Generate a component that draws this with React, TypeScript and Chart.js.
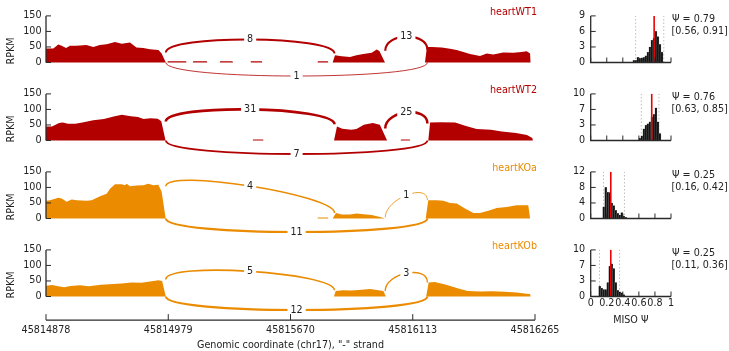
import React, { useEffect, useRef } from 'react';
import { Chart, registerables } from 'chart.js';
Chart.register(...registerables);

const FONT_FAMILY = '"DejaVu Sans", sans-serif';
const FS = 9.6;
const TEXT = '#222222';
const AXIS = '#2a2a2a';
const RED = '#b20000';
const ORANGE = '#ea8b00';

const sampleNames = ['heartWT1', 'heartWT2', 'heartKOa', 'heartKOb'];
const sampleColors = [RED, RED, ORANGE, ORANGE];

// compressed genomic axis (0..400 units)
const genomicTickPos = [0, 100, 200, 300, 400];
const genomicTickLabels = ['45814878', '45814979', '45815670', '45816113', '45816265'];
const rpkmTicks = [0, 50, 100, 150];

// coverage (x in compressed units, y in RPKM)
const wt1X = [0, 6, 10, 12.8, 16.4, 19.6, 25, 33, 38.7, 44, 49.6, 56.4, 62, 68.7, 74, 79.6, 85, 92, 94.6, 98,
  99, 99.5, 114.5, 115, 120, 120.5, 131.5, 132, 142, 142.5, 152.5, 153, 167, 167.5, 176.5, 177, 222, 222.5, 230.5, 231,
  234.5, 236.4, 241.8, 248.7, 254, 259.6, 266.4, 270.5, 272.7, 277.3,
  310, 311.6, 315.5, 323.7, 330.5, 335.9, 341.4, 346.8, 355, 360.5, 365.9, 374, 382.3, 389, 393.2, 396, 396.5];
const wt1Y = [45, 45, 58, 54, 47, 54, 54, 56, 50, 56, 59, 66, 60, 64, 48, 47, 43, 40, 29, 0,
  0, 4, 4, 0, 0, 4, 4, 0, 0, 4, 4, 0, 0, 4, 4, 0, 0, 4, 4, 0,
  0, 23, 20, 18, 23, 27, 31, 42, 37, 0,
  0, 50, 50, 48, 44, 40, 34, 27, 21, 29, 26, 32, 31, 34, 36, 29, 0];

const wt2X = [0, 4.9, 10.7, 13.7, 18.1, 24, 29.8, 38.6, 47.4, 56.2, 62, 69.4, 75.3, 79.7, 85.5, 91.4, 94.3, 97.8,
  169, 169.5, 177.5, 178,
  235.6, 238, 242.4, 249.7, 254, 260, 267.3, 273.1, 279,
  290, 290.5, 297.5, 298,
  312.7, 314.2, 323, 334.7, 343.5, 352.3, 364, 372.8, 384.5, 393.4, 397.8, 398.3];
const wt2Y = [45, 45, 56, 58, 54, 54, 58, 65, 69, 78, 83, 78, 76, 69, 72, 70, 62, 0,
  0, 3, 3, 0,
  0, 45, 38, 35, 37, 51, 56, 51, 0,
  0, 3, 3, 0,
  0, 58, 59, 58, 47, 37, 35, 29, 24, 18, 8, 0];

const koaX = [0, 3.3, 10.1, 12.8, 16.9, 21, 25.1, 33.3, 37.4, 44.2, 49.6, 52.4, 56.4, 61.9, 64.6, 66, 68.7, 74.1, 79.6, 83.7, 87.8, 91.9, 94.6, 97.9,
  222, 222.5, 230.5, 231,
  234.5, 237.2, 241.8, 248.7, 254.2, 259.6, 266.4, 273.2, 277.3,
  310.6, 312.7, 319.6, 325, 330.5, 336, 342.7, 349.6, 355, 361.8, 368.7, 376.9, 385, 394.5, 396];
const koaY = [57, 59, 67, 64, 54, 61, 59, 57, 59, 72, 80, 96, 110, 110, 107, 112, 104, 106, 107, 112, 107, 109, 86, 0,
  0, 3, 3, 0,
  0, 18, 13, 13, 16, 14, 11, 5, 0,
  0, 59, 59, 57, 50, 48, 32, 18, 18, 25, 34, 37, 43, 43, 0];

const kobX = [0, 5, 10, 15, 20, 28, 35, 45, 55, 62, 70, 78, 85, 92, 95, 98,
  235.5, 237, 243, 250, 258, 265, 272, 276, 278,
  311, 313, 318, 325, 332, 338, 345, 355, 365, 375, 385, 393, 396, 396.5];
const kobY = [35, 37, 33, 30, 34, 36, 33, 38, 40, 42, 45, 44, 48, 52, 50, 0,
  0, 18, 20, 19, 22, 24, 20, 18, 0,
  0, 45, 47, 40, 32, 25, 18, 16, 17, 15, 13, 9, 8, 0];

const covX = [wt1X, wt2X, koaX, kobX];
const covY = [wt1Y, wt2Y, koaY, kobY];

// junctions (compressed coordinates)
const jxnStart = [98, 277.5, 98];
const jxnEnd = [236, 312, 312];
const jxnAbove = [true, true, false];
const wt1Counts = [8, 13, 1];
const wt2Counts = [31, 25, 7];
const koaCounts = [4, 1, 11];
const kobCounts = [5, 3, 12];
const wt1LeftDens = [32, 38, 0];
const wt1RightDens = [29, 41, 0];
const wt2LeftDens = [61, 39, 0];
const wt2RightDens = [52, 55, 0];
const koaLeftDens = [104, 4, 0];
const koaRightDens = [18, 59, 0];
const kobLeftDens = [55, 18, 0];
const kobRightDens = [20, 45, 0];
const jxnCounts = [wt1Counts, wt2Counts, koaCounts, kobCounts];
const jxnLeft = [wt1LeftDens, wt2LeftDens, koaLeftDens, kobLeftDens];
const jxnRight = [wt1RightDens, wt2RightDens, koaRightDens, kobRightDens];
const Y_MIN = -76;
const Y_MAX = 150;
const ARC_H = 58;

// MISO posterior
const psiMean = [0.79, 0.76, 0.25, 0.25];
const ciLow = [0.56, 0.63, 0.16, 0.11];
const ciHigh = [0.91, 0.85, 0.42, 0.36];
const histBinWidth = 0.025;
const histStart = [0.525, 0.6, 0.15, 0.1];
const wt1Hist = [0.4, 0.4, 1.0, 0.8, 0.9, 1.0, 1.3, 2.0, 3.0, 4.3, 4.7, 6.0, 5.0, 3.5, 2.0];
const wt2Hist = [0.5, 1.0, 2.5, 3.3, 3.6, 4.0, 5.0, 5.6, 7.0, 4.0, 1.5];
const koaHist = [3.0, 8.0, 6.8, 6.7, 4.0, 3.3, 2.1, 1.3, 0.9, 1.5, 0.6, 0.3];
const kobHist = [2.2, 1.8, 1.5, 1.5, 3.0, 6.5, 7.0, 6.0, 3.0, 1.3, 1.0, 0.8, 0.4];
const hists = [wt1Hist, wt2Hist, koaHist, kobHist];
const histYMax = [9, 10, 12, 10];
const histXTicks = [0, 0.2, 0.4, 0.6, 0.8, 1];
const histXTickLabels = ['0', '0.2', '0.4', '0.6', '0.8', '1'];

const PANEL_STEP = 78;
const PAD_TOP = 15.9;
const BASE_REL = 62.5;
const PX_PER_RPKM = 46.6 / 150;

const font = { family: FONT_FAMILY, size: FS };
const fontStr = `${FS}px ${FONT_FAMILY}`;

function zeroPadY(s: any) {
  s.paddingTop = 0;
  s.paddingBottom = 0;
}
function zeroPadX(s: any) {
  s.paddingLeft = 0;
  s.paddingRight = 0;
}

function CoveragePanel({ i }: { i: number }) {
  const ref = useRef<HTMLCanvasElement>(null);
  const isLast = i === 3;
  const H = isLast ? 117 : 90;
  useEffect(() => {
    const canvas = ref.current!;
    const color = sampleColors[i];
    const chartBottomRel = PAD_TOP + (Y_MAX - Y_MIN) * PX_PER_RPKM;
    const plugin = {
      id: 'sashimi' + i,
      afterDatasetsDraw(chart: any) {
        const { ctx, chartArea, scales } = chart;
        const sx = scales.x, sy = scales.y;
        ctx.save();
        // y spine
        ctx.strokeStyle = AXIS;
        ctx.lineWidth = 1.3;
        const ax = chartArea.left;
        ctx.beginPath();
        ctx.moveTo(ax, sy.getPixelForValue(0));
        ctx.lineTo(ax, sy.getPixelForValue(150));
        ctx.stroke();
        ctx.lineWidth = 1;
        rpkmTicks.forEach((v) => {
          const y = sy.getPixelForValue(v);
          ctx.beginPath();
          ctx.moveTo(ax, y);
          ctx.lineTo(ax + 5, y);
          ctx.stroke();
        });
        // arcs
        const counts = jxnCounts[i], ld = jxnLeft[i], rd = jxnRight[i];
        for (let k = 0; k < counts.length; k++) {
          const x1 = sx.getPixelForValue(jxnStart[k]);
          const x2 = sx.getPixelForValue(jxnEnd[k]);
          let p0, p1, p2, p3;
          if (jxnAbove[k]) {
            p0 = sy.getPixelForValue(ld[k]);
            p1 = sy.getPixelForValue(ld[k] + ARC_H);
            p2 = sy.getPixelForValue(rd[k] + ARC_H);
            p3 = sy.getPixelForValue(rd[k]);
          } else {
            p0 = sy.getPixelForValue(0);
            p1 = sy.getPixelForValue(-ARC_H);
            p2 = sy.getPixelForValue(-ARC_H);
            p3 = sy.getPixelForValue(0);
          }
          ctx.strokeStyle = color;
          ctx.lineWidth = 0.8 + 0.55 * Math.log(counts[k]);
          ctx.beginPath();
          ctx.moveTo(x1, p0);
          ctx.bezierCurveTo(x1, p1, x2, p2, x2, p3);
          ctx.stroke();
          const mx = (x1 + x2) / 2;
          const my = (p0 + 3 * p1 + 3 * p2 + p3) / 8;
          const label = String(counts[k]);
          ctx.font = fontStr;
          const w = ctx.measureText(label).width;
          ctx.fillStyle = '#ffffff';
          ctx.fillRect(mx - w / 2 - 3, my - 6, w + 6, 12);
          ctx.fillStyle = TEXT;
          ctx.textAlign = 'center';
          ctx.textBaseline = 'middle';
          ctx.fillText(label, mx, my);
        }
        // sample name
        ctx.font = fontStr;
        ctx.fillStyle = color;
        ctx.textAlign = 'right';
        ctx.textBaseline = 'middle';
        ctx.fillText(sampleNames[i], 537, 12.3);
        // bottom genomic axis
        if (isLast) {
          ctx.strokeStyle = AXIS;
          ctx.lineWidth = 1.3;
          const yb = chartArea.bottom;
          ctx.beginPath();
          ctx.moveTo(sx.getPixelForValue(0), yb);
          ctx.lineTo(sx.getPixelForValue(400), yb);
          ctx.stroke();
          ctx.lineWidth = 1;
          genomicTickPos.forEach((v) => {
            const x = sx.getPixelForValue(v);
            ctx.beginPath();
            ctx.moveTo(x, yb);
            ctx.lineTo(x, yb - 6);
            ctx.stroke();
          });
        }
        ctx.restore();
      },
    };
    const chart = new Chart(canvas, {
      type: 'line',
      data: {
        datasets: [{
          data: covX[i].map((x, k) => ({ x, y: covY[i][k] })),
          fill: 'origin',
          backgroundColor: color,
          borderColor: color,
          borderWidth: 0,
          pointRadius: 0,
          tension: 0,
        }],
      },
      options: {
        animation: false,
        responsive: false,
        events: [],
        layout: { padding: { top: PAD_TOP, left: 0, right: 25, bottom: 0 } },
        plugins: { legend: { display: false }, tooltip: { enabled: false } },
        scales: {
          x: {
            type: 'linear', min: 0, max: 400, display: isLast, offset: false,
            grid: { display: false, drawTicks: false },
            border: { display: false },
            afterBuildTicks: (s: any) => { s.ticks = genomicTickPos.map((v) => ({ value: v })); },
            afterFit: (s: any) => { s.height = H - chartBottomRel; zeroPadX(s); },
            ticks: {
              autoSkip: false, maxRotation: 0, minRotation: 0, padding: 5, font, color: TEXT,
              callback: (_v: any, idx: number) => genomicTickLabels[idx],
            },
            title: { display: true, text: 'Genomic coordinate (chr17), "-" strand', font, color: TEXT, padding: { top: 0, bottom: 0 } },
          },
          y: {
            type: 'linear', min: Y_MIN, max: Y_MAX,
            grid: { display: false, drawTicks: false },
            border: { display: false },
            afterBuildTicks: (s: any) => { s.ticks = rpkmTicks.map((v) => ({ value: v })); },
            afterFit: (s: any) => { s.width = 46; zeroPadY(s); },
            ticks: { padding: 4.5, font, color: TEXT },
            title: { display: true, text: 'RPKM', font, color: TEXT, padding: { top: 5.5, bottom: 0 } },
          },
        },
      },
      plugins: [plugin],
    } as any);
    return () => chart.destroy();
  }, [i]);
  return (
    <canvas ref={ref} width={560} height={H}
      style={{ position: 'absolute', left: 0, top: PANEL_STEP * i, width: 560, height: H }} />
  );
}

function HistPanel({ i }: { i: number }) {
  const ref = useRef<HTMLCanvasElement>(null);
  const isLast = i === 3;
  const H = isLast ? 117 : 78;
  useEffect(() => {
    const canvas = ref.current!;
    const yMax = histYMax[i];
    const yTicks = [0, 1, 2, 3].map((k) => (yMax * k) / 3);
    const plugin = {
      id: 'hist' + i,
      beforeDatasetsDraw(chart: any) {
        const { ctx, chartArea, scales } = chart;
        ctx.save();
        ctx.strokeStyle = '#bdbdbd';
        ctx.lineWidth = 1;
        ctx.setLineDash([1.5, 2]);
        [ciLow[i], ciHigh[i]].forEach((v) => {
          const x = scales.x.getPixelForValue(v);
          ctx.beginPath();
          ctx.moveTo(x, chartArea.bottom);
          ctx.lineTo(x, chartArea.top);
          ctx.stroke();
        });
        ctx.restore();
      },
      afterDatasetsDraw(chart: any) {
        const { ctx, chartArea, scales } = chart;
        const sx = scales.x, sy = scales.y;
        ctx.save();
        const px = sx.getPixelForValue(psiMean[i]);
        ctx.strokeStyle = '#ee0000';
        ctx.lineWidth = 1.6;
        ctx.beginPath();
        ctx.moveTo(px, chartArea.bottom);
        ctx.lineTo(px, chartArea.top);
        ctx.stroke();
        // spines
        ctx.strokeStyle = AXIS;
        ctx.lineWidth = 1.3;
        ctx.beginPath();
        ctx.moveTo(chartArea.left, chartArea.top);
        ctx.lineTo(chartArea.left, chartArea.bottom);
        ctx.lineTo(chartArea.right, chartArea.bottom);
        ctx.stroke();
        ctx.lineWidth = 1;
        yTicks.forEach((v) => {
          const y = sy.getPixelForValue(v);
          ctx.beginPath();
          ctx.moveTo(chartArea.left, y);
          ctx.lineTo(chartArea.left + 5, y);
          ctx.stroke();
        });
        histXTicks.forEach((v) => {
          const x = sx.getPixelForValue(v);
          ctx.beginPath();
          ctx.moveTo(x, chartArea.bottom);
          ctx.lineTo(x, chartArea.bottom - 5);
          ctx.stroke();
        });
        // psi text
        ctx.font = fontStr;
        ctx.fillStyle = TEXT;
        ctx.textAlign = 'left';
        ctx.textBaseline = 'middle';
        ctx.fillText('Ψ = ' + psiMean[i].toFixed(2), chartArea.right + 1, chartArea.top + 3.4);
        ctx.fillText('[' + ciLow[i].toFixed(2) + ', ' + ciHigh[i].toFixed(2) + ']', chartArea.right + 0.5, chartArea.top + 15.1);
        ctx.restore();
      },
    };
    const chart = new Chart(canvas, {
      type: 'bar',
      data: {
        datasets: [{
          data: hists[i].map((v, k) => ({ x: histStart[i] + (k + 0.5) * histBinWidth, y: v })),
          backgroundColor: '#141414',
          borderColor: '#7a7a7a',
          borderWidth: 0.4,
          barPercentage: 1,
          categoryPercentage: 1,
        }],
      },
      options: {
        animation: false,
        responsive: false,
        events: [],
        layout: { padding: { top: PAD_TOP, left: 0, right: 58, bottom: 0 } },
        plugins: { legend: { display: false }, tooltip: { enabled: false } },
        scales: {
          x: {
            type: 'linear', min: 0, max: 1, offset: false, display: true,
            grid: { display: false, drawTicks: false },
            border: { display: false },
            afterBuildTicks: (s: any) => { s.ticks = histXTicks.map((v) => ({ value: v })); },
            afterFit: (s: any) => { s.height = H - BASE_REL; zeroPadX(s); },
            ticks: {
              display: isLast, autoSkip: false, maxRotation: 0, minRotation: 0, padding: 1, font, color: TEXT,
              callback: (_v: any, idx: number) => histXTickLabels[idx],
            },
            title: { display: isLast, text: 'MISO Ψ', font, color: TEXT, padding: { top: 0, bottom: 24.3 } },
          },
          y: {
            type: 'linear', min: 0, max: yMax,
            grid: { display: false, drawTicks: false },
            border: { display: false },
            afterBuildTicks: (s: any) => { s.ticks = yTicks.map((v) => ({ value: v })); },
            afterFit: (s: any) => { s.width = 30.7; zeroPadY(s); },
            ticks: { padding: 5.5, font, color: TEXT, callback: (v: any) => String(Math.round(v)) },
          },
        },
      },
      plugins: [plugin],
    } as any);
    return () => chart.destroy();
  }, [i]);
  return (
    <canvas ref={ref} width={169} height={H}
      style={{ position: 'absolute', left: 560, top: PANEL_STEP * i, width: 169, height: H }} />
  );
}

export default function App() {
  return (
    <div style={{ position: 'absolute', left: 0, top: 0, width: 729, height: 351, background: '#ffffff', overflow: 'hidden' }}>
      {sampleNames.map((n, i) => <CoveragePanel key={'c' + n} i={i} />)}
      {sampleNames.map((n, i) => <HistPanel key={'h' + n} i={i} />)}
    </div>
  );
}
